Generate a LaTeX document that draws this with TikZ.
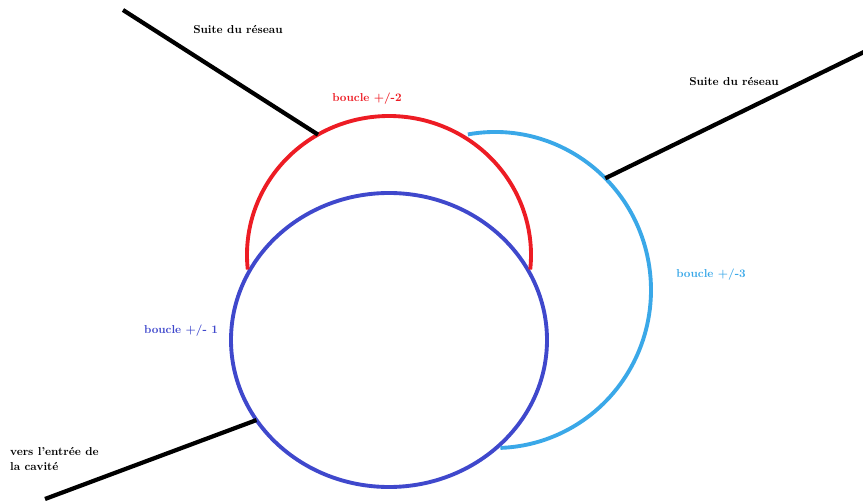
\documentclass[tikz,border=0pt]{standalone}
\usepackage{fontspec}
\definecolor{loopred}{RGB}{237,28,36}
\definecolor{loopblue}{RGB}{63,72,204}
\definecolor{looplight}{RGB}{58,168,232}
\begin{document}
\begin{tikzpicture}[x=0.03cm,y=0.03cm,font=\fontsize{9.8}{12.5}\selectfont\bfseries,
  loop/.style={line width=3.3pt},
  wire/.style={line width=3.6pt,black}]
  \useasboundingbox (0,0) rectangle (863,502);

  % boucle 1
  \draw[loop,loopblue] (389,162) ellipse [x radius=158,y radius=147];
  \path (389,162) ++(213:158 and 147) coordinate (j1);
  \node[loopblue] (l1) at (181,171) {boucle +/- \oldstylenums{1}};

  % boucle 2
  \draw[loop,loopred] (389,247) ++(186:142 and 139)
    arc[start angle=186,end angle=-6,x radius=142,y radius=139];
  \path (389,247) ++(120:142 and 139) coordinate (j2);
  \node[loopred] (l2) at (367,403) {boucle +/-\oldstylenums{2}};

  % boucle 3
  \draw[loop,looplight] (495,212) ++(100:156 and 158)
    arc[start angle=100,end angle=-88,x radius=156,y radius=158];
  \path (495,212) ++(45:156 and 158) coordinate (j3);
  \node[looplight] (l3) at (711,227) {boucle +/-\oldstylenums{3}};

  % reseau
  \coordinate (w1) at (45,3);
  \coordinate (w2) at (123,492);
  \coordinate (w3) at (866,451);
  \draw[wire] (w1) -- (j1);
  \draw[wire] (w2) -- (j2);
  \draw[wire] (w3) -- (j3);
  \node (s2) at (238,472) {Suite du réseau};
  \node (s3) at (734,420) {Suite du réseau};
  \node[anchor=west,align=left] (cav) at (6,43) {vers l'entrée de\\la cavité};
\end{tikzpicture}
\end{document}
